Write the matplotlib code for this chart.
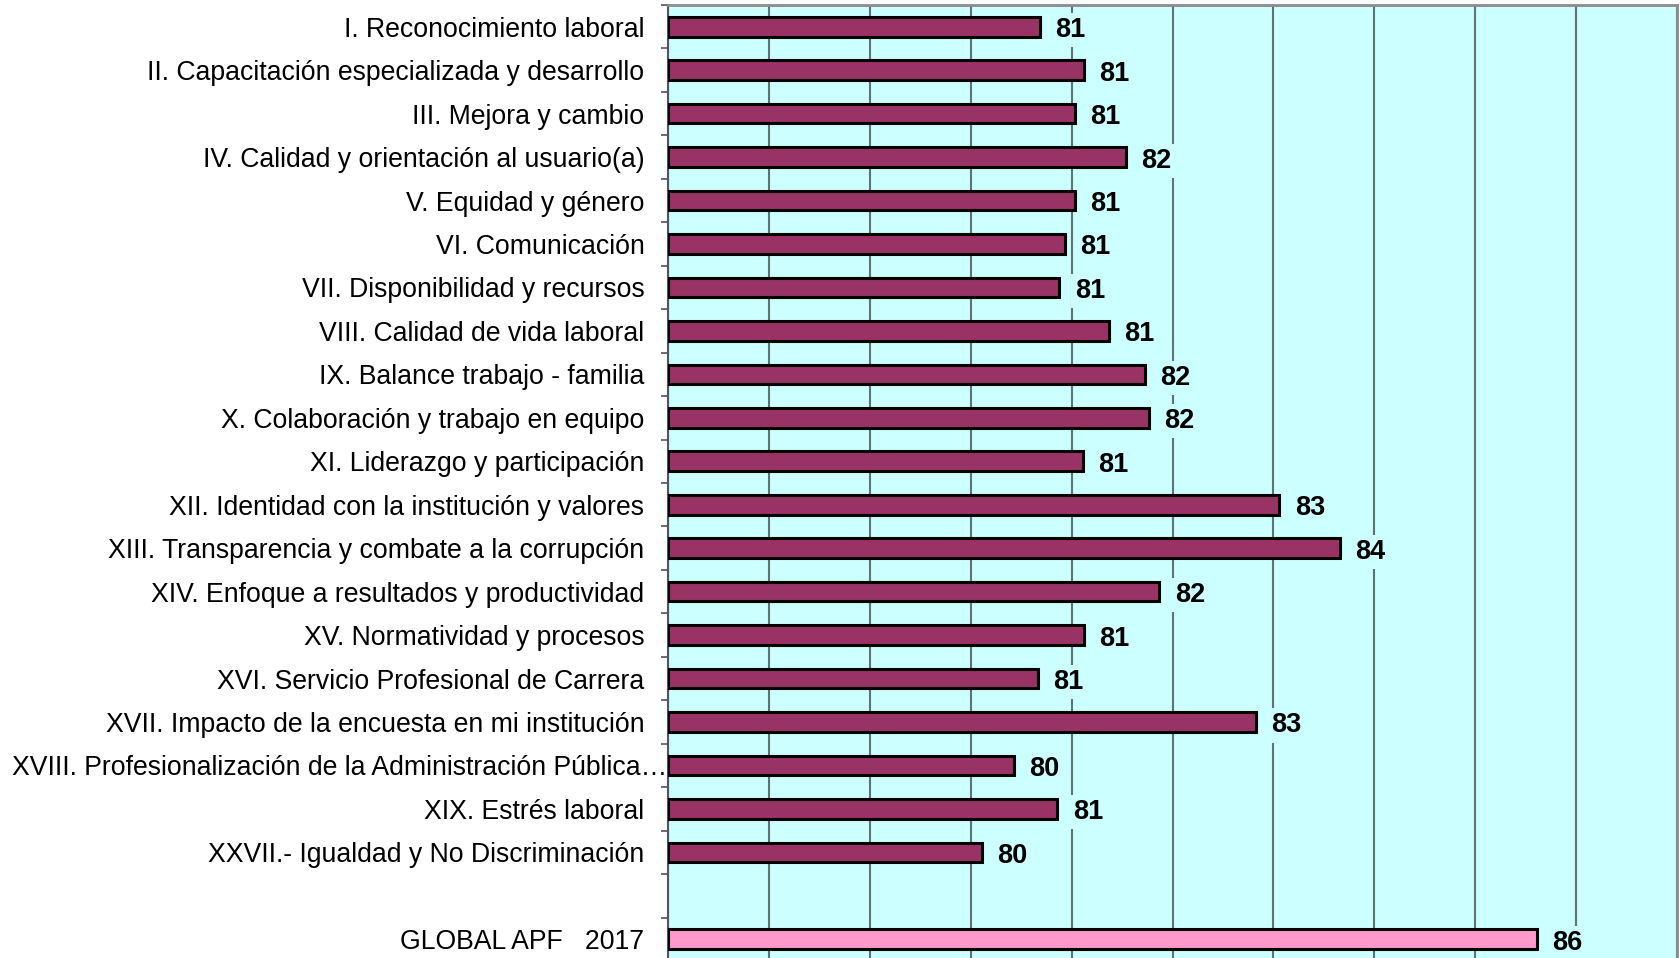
import numpy as np
import matplotlib
matplotlib.use("Agg")
import matplotlib.pyplot as plt
from matplotlib.transforms import ScaledTranslation

plt.rcParams['font.family'] = ['Liberation Sans', 'DejaVu Sans']

categories = [
    "I. Reconocimiento laboral",
    "II. Capacitación especializada y desarrollo",
    "III. Mejora y cambio",
    "IV. Calidad y orientación al usuario(a)",
    "V. Equidad y género",
    "VI. Comunicación",
    "VII. Disponibilidad y recursos",
    "VIII. Calidad de vida laboral",
    "IX. Balance trabajo - familia",
    "X. Colaboración y trabajo en equipo",
    "XI. Liderazgo y participación",
    "XII. Identidad con la institución y valores",
    "XIII. Transparencia y combate a la corrupción",
    "XIV. Enfoque a resultados y productividad",
    "XV. Normatividad y procesos",
    "XVI. Servicio Profesional de Carrera",
    "XVII. Impacto de la encuesta en mi institución",
    "XVIII. Profesionalización de la Administración Pública…",
    "XIX. Estrés laboral",
    "XXVII.- Igualdad y No Discriminación",
]
values = [80.69, 81.12, 81.03, 81.54, 81.03, 80.93, 80.88, 81.37, 81.73, 81.77,
          81.11, 83.06, 83.66, 81.87, 81.12, 80.67, 82.83, 80.43, 80.86, 80.11]

global_label = "GLOBAL APF   2017"
global_value = 85.61

x_min, x_max = 77, 87

fig = plt.figure(figsize=(16.8, 9.58), dpi=100)
ax = fig.add_axes([668/1680, -3/958, 1009/1680, (958 - 5 + 3)/958])
ax.set_facecolor('#CCFFFF')

# category rows, one empty row, then the global row
y_cat = np.arange(len(categories))
y_glob = len(categories) + 1

ax.barh(y_cat, [v - x_min for v in values], left=x_min, height=0.45,
        color='#993366', edgecolor='black', linewidth=2.2, zorder=3)
ax.barh([y_glob], [global_value - x_min], left=x_min, height=0.45,
        color='#FF99CC', edgecolor='black', linewidth=2.2, zorder=3)

for y, v in list(zip(y_cat, values)) + [(y_glob, global_value)]:
    ax.annotate(f"{v:.0f}", xy=(v, y), xytext=(11, -2.5), textcoords='offset points',
                ha='left', va='center', fontsize=19.5, fontweight='bold', zorder=5,
                bbox=dict(boxstyle='square,pad=0.15', facecolor='#CCFFFF', edgecolor='none'))

ax.set_xlim(x_min, x_max)
ax.set_ylim(y_glob + 0.5, -0.5)

ax.set_xticks(np.arange(x_min, x_max + 1, 1))
ax.tick_params(axis='x', length=0, labelbottom=False)
ax.grid(axis='x', color='#5F7373', linewidth=1.5)
ax.set_axisbelow(True)

ax.set_yticks(list(y_cat) + [y_glob])
ax.set_yticklabels(categories + [global_label], fontsize=19.2)
ax.tick_params(axis='y', which='major', length=0, pad=17)
ax.set_yticks(np.arange(-0.5, y_glob + 0.5, 1), minor=True)
ax.tick_params(axis='y', which='minor', length=5, width=1.2, color='#555555')

# the long truncated label runs up to the axis line
long_lbl = ax.get_yticklabels()[17]
long_lbl.set_transform(long_lbl.get_transform() + ScaledTranslation(0.225, 0, fig.dpi_scale_trans))

for side in ['top', 'right']:
    ax.spines[side].set_color('#8C8C8C')
    ax.spines[side].set_linewidth(2)
ax.spines['left'].set_color('#555555')
ax.spines['left'].set_linewidth(1.5)
ax.spines['bottom'].set_visible(False)

fig.savefig("out.png", dpi=100, facecolor='white')
